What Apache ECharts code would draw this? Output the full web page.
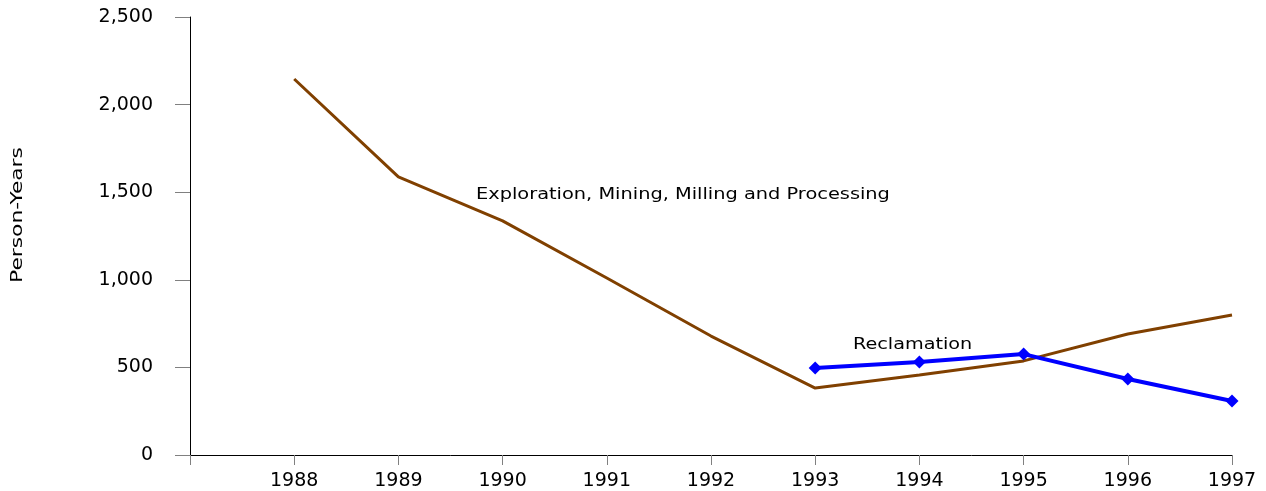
<!DOCTYPE html>
<html>
<head>
<meta charset="utf-8">
<script src="https://cdn.jsdelivr.net/npm/echarts@6/dist/echarts.min.js"></script>
<style>
html,body{margin:0;padding:0;background:#fff;}
#chart{width:1266px;height:491px;}
</style>
</head>
<body>
<div id="chart"></div>
<script>
const years = [1988, 1989, 1990, 1991, 1992, 1993, 1994, 1995, 1996, 1997];
const miningValues = [2146, 1587, 1336, 1010, 679, 382, 457, 537, 691, 799];
const reclamationYears = [1993, 1994, 1995, 1996, 1997];
const reclamationValues = [497, 531, 576, 434, 308];
const yTicks = [0, 500, 1000, 1500, 2000, 2500];

const FONT = 'DejaVu Sans';
const chart = echarts.init(document.getElementById('chart'));
chart.setOption({
  animation: false,
  grid: { left: 190, right: 34, top: 17, bottom: 36 },
  xAxis: {
    type: 'value',
    min: 1987, max: 1997, interval: 1,
    axisLine: { onZero: false, lineStyle: { color: '#000', width: 1 } },
    axisTick: { show: true, length: 10, lineStyle: { color: '#808080' } },
    splitLine: { show: false },
    axisLabel: {
      color: '#000', fontFamily: FONT, fontSize: 19, margin: 17,
      formatter: v => (years.indexOf(v) >= 0 ? String(v) : '')
    }
  },
  yAxis: {
    type: 'value',
    min: yTicks[0], max: yTicks[yTicks.length - 1], interval: 500,
    axisLine: { show: true, lineStyle: { color: '#000', width: 1 } },
    axisTick: { show: true, length: 15, lineStyle: { color: '#808080' } },
    splitLine: { show: false },
    axisLabel: {
      color: '#000', fontFamily: FONT, fontSize: 19, margin: 37,
      formatter: v => v.toLocaleString('en-US')
    }
  },
  series: [
    {
      type: 'line',
      data: years.map((y, i) => [y, miningValues[i]]),
      showSymbol: false, symbol: 'none',
      lineStyle: { color: '#804000', width: 3 },
      z: 2
    },
    {
      type: 'line',
      data: reclamationYears.map((y, i) => [y, reclamationValues[i]]),
      symbol: 'diamond', symbolSize: 13,
      itemStyle: { color: '#0000ff' },
      lineStyle: { color: '#0000ff', width: 4 },
      z: 3
    }
  ],
  graphic: [
    {
      type: 'text', x: 476, y: 187, scaleX: 1.21,
      style: { text: 'Exploration, Mining, Milling and Processing', fontFamily: FONT, fontSize: 16, fill: '#000' }
    },
    {
      type: 'text', x: 853, y: 337, scaleX: 1.2,
      style: { text: 'Reclamation', fontFamily: FONT, fontSize: 16, fill: '#000' }
    },
    {
      type: 'text', x: 10, y: 215, rotation: Math.PI / 2, scaleX: 1.36,
      style: { text: 'Person-Years', fontFamily: FONT, fontSize: 16, fill: '#000', align: 'center', verticalAlign: 'top' }
    }
  ]
});
</script>
</body>
</html>
